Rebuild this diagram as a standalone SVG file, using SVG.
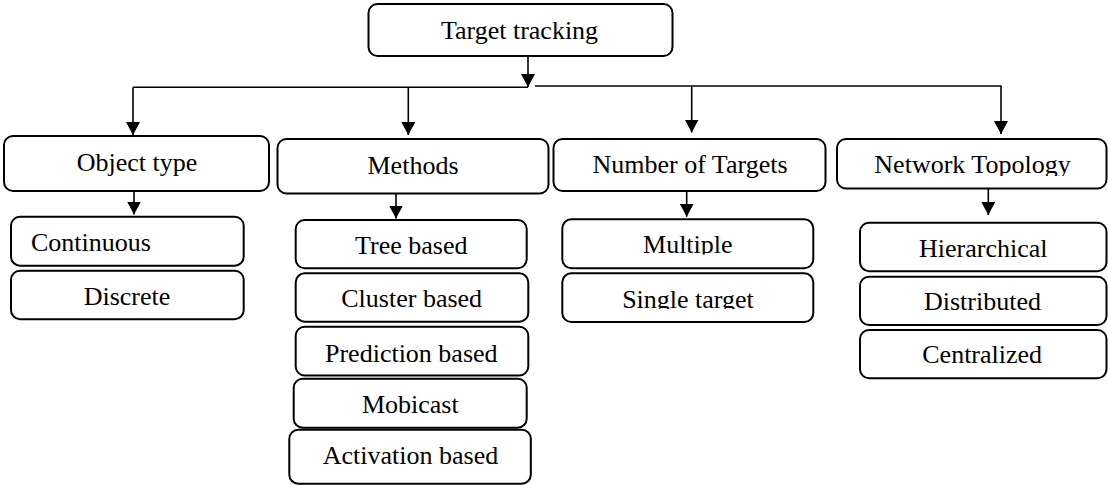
<svg xmlns="http://www.w3.org/2000/svg" width="1108" height="485" viewBox="0 0 1108 485">
<style>
.box{fill:#fff;stroke:#000;stroke-width:2}
.t{font-family:"Liberation Serif","Times New Roman",serif;font-size:26px;fill:#000;text-anchor:middle}
.ln{fill:none;stroke:#000;stroke-width:1.6}
</style>
<defs>
<marker id="ah" markerUnits="userSpaceOnUse" viewBox="0 0 13 14" markerWidth="13" markerHeight="14" refX="13" refY="7" orient="auto">
<path d="M0,0 L13,7 L0,14 Z" fill="#000"/>
</marker>
<clipPath id="clipNet"><rect x="837" y="139" width="270" height="37"/></clipPath>
<clipPath id="clipMul"><rect x="562" y="219" width="252" height="35.5"/></clipPath>
<clipPath id="clipSin"><rect x="562" y="273" width="252" height="36"/></clipPath>
</defs>
<rect width="1108" height="485" fill="#fff"/>
<g id="connectors">
<path class="ln" d="M528,56 V87" marker-end="url(#ah)"/>
<path class="ln" d="M133,87.3 H528"/>
<path class="ln" d="M535,86 H1001.5"/>
<path class="ln" d="M133,87.3 V135" marker-end="url(#ah)"/>
<path class="ln" d="M408.3,87.3 V135" marker-end="url(#ah)"/>
<path class="ln" d="M691.7,86 V132.5" marker-end="url(#ah)"/>
<path class="ln" d="M1001,86 V134" marker-end="url(#ah)"/>
<path class="ln" d="M134,191 V214.5" marker-end="url(#ah)"/>
<path class="ln" d="M396,193.5 V218.5" marker-end="url(#ah)"/>
<path class="ln" d="M686.7,191 V216.7" marker-end="url(#ah)"/>
<path class="ln" d="M988.3,188 V215" marker-end="url(#ah)"/>
</g>
<g id="target-tracking"><rect class="box" x="368.5" y="4" width="304" height="52" rx="9"/><text class="t" x="519.5" y="39">Target tracking</text></g>
<g id="object-type"><rect class="box" x="4" y="136" width="265" height="55" rx="9"/><text class="t" x="137" y="171">Object type</text></g>
<g id="methods"><rect class="box" x="277.5" y="139" width="271" height="54.5" rx="9"/><text class="t" x="413" y="174">Methods</text></g>
<g id="number-of-targets"><rect class="box" x="553.5" y="139" width="272" height="52" rx="9"/><text class="t" x="690" y="173">Number of Targets</text></g>
<g id="network-topology"><rect class="box" x="837" y="139" width="269.5" height="49.5" rx="9"/><text class="t" x="972.5" y="173" clip-path="url(#clipNet)">Network Topology</text></g>
<g id="continuous"><rect class="box" x="11" y="216.7" width="232.7" height="49" rx="9"/><text class="t" x="31" y="251" style="text-anchor:start">Continuous</text></g>
<g id="discrete"><rect class="box" x="11" y="270.7" width="232.7" height="48.5" rx="9"/><text class="t" x="127" y="305">Discrete</text></g>
<g id="tree-based"><rect class="box" x="295.7" y="220" width="231" height="48.3" rx="9"/><text class="t" x="411.3" y="254">Tree based</text></g>
<g id="cluster-based"><rect class="box" x="295.7" y="273.3" width="232.6" height="48.4" rx="9"/><text class="t" x="411.7" y="307.3">Cluster based</text></g>
<g id="prediction-based"><rect class="box" x="295.7" y="326.7" width="232.6" height="48.8" rx="9"/><text class="t" x="411.3" y="361.7">Prediction based</text></g>
<g id="mobicast"><rect class="box" x="293.7" y="378.7" width="233" height="49" rx="9"/><text class="t" x="410.3" y="413.3">Mobicast</text></g>
<g id="activation-based"><rect class="box" x="289.3" y="429.7" width="241.5" height="54" rx="9"/><text class="t" x="410.5" y="464">Activation based</text></g>
<g id="multiple"><rect class="box" x="562.3" y="219.3" width="251" height="49" rx="9"/><text class="t" x="687.8" y="253.3" clip-path="url(#clipMul)">Multiple</text></g>
<g id="single-target"><rect class="box" x="562.3" y="273.3" width="251" height="48.7" rx="9"/><text class="t" x="688" y="308.3" clip-path="url(#clipSin)">Single target</text></g>
<g id="hierarchical"><rect class="box" x="860" y="222.7" width="246.5" height="48.5" rx="9"/><text class="t" x="983.3" y="257.3">Hierarchical</text></g>
<g id="distributed"><rect class="box" x="860" y="276.7" width="246.5" height="48.3" rx="9"/><text class="t" x="982.5" y="310">Distributed</text></g>
<g id="centralized"><rect class="box" x="860" y="330" width="246.5" height="48.3" rx="9"/><text class="t" x="982.2" y="363.3">Centralized</text></g>
</svg>
